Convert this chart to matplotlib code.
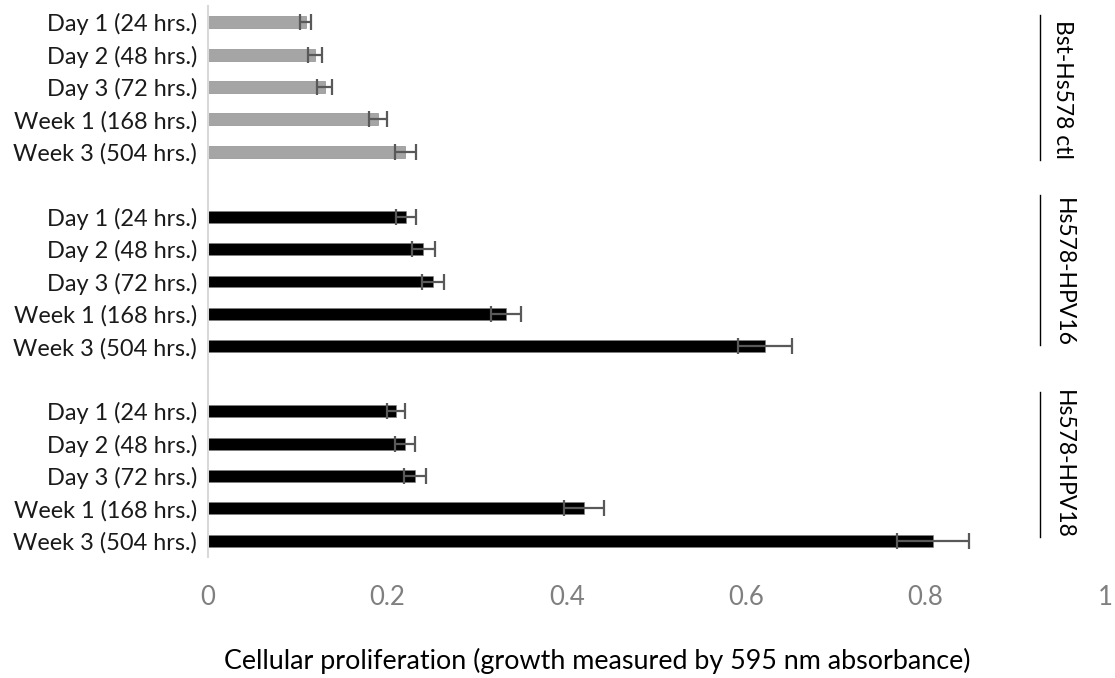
import matplotlib
matplotlib.use("Agg")
import matplotlib.pyplot as plt
from matplotlib.lines import Line2D
import numpy as np

plt.rcParams['font.family'] = ['Lato', 'DejaVu Sans']

categories = ["Day 1 (24 hrs.)", "Day 2 (48 hrs.)", "Day 3 (72 hrs.)",
              "Week 1 (168 hrs.)", "Week 3 (504 hrs.)"]
groups = ["Bst-Hs578 ctl", "Hs578-HPV16", "Hs578-HPV18"]

bst_vals = [0.109, 0.119, 0.130, 0.190, 0.220]
bst_err = [0.006, 0.008, 0.008, 0.010, 0.012]
hpv16_vals = [0.221, 0.240, 0.251, 0.332, 0.621]
hpv16_err = [0.011, 0.013, 0.012, 0.017, 0.030]
hpv18_vals = [0.210, 0.220, 0.231, 0.419, 0.808]
hpv18_err = [0.010, 0.011, 0.012, 0.022, 0.040]

xticks = [0, 0.2, 0.4, 0.6, 0.8, 1]
xticklabels = ["0", "0.2", "0.4", "0.6", "0.8", "1"]
xlabel = "Cellular proliferation (growth measured by 595 nm absorbance)"

W, H = 1115, 678
fig = plt.figure(figsize=(W / 100, H / 100), dpi=100)
ax = fig.add_axes([208 / W, 1 - 557 / H, (1105 - 208) / W, (557 - 6) / H])

series = [(bst_vals, bst_err, '#a5a5a5'),
          (hpv16_vals, hpv16_err, '#000000'),
          (hpv18_vals, hpv18_err, '#000000')]

positions = []
labels = []
for gi, (vals, errs, col) in enumerate(series):
    ys = np.arange(len(categories)) + gi * (len(categories) + 1)
    ax.barh(ys, vals, height=0.37, color=col, edgecolor='#7f7f7f', linewidth=0.4, zorder=2)
    ax.errorbar(vals, ys, xerr=errs, fmt='none', ecolor='#595959', elinewidth=1.6,
                capsize=5.5, capthick=1.6, zorder=3)
    positions.extend(ys)
    labels.extend(categories)

ax.set_yticks(positions)
ax.set_yticklabels(labels, fontsize=16.9, color='#1a1a1a')
ax.set_ylim(16.5, -0.5)
ax.set_xlim(0, 1)
ax.set_xticks(xticks)
ax.set_xticklabels(xticklabels, fontsize=18.5, color='#7f7f7f')
ax.tick_params(axis='both', length=0)
ax.tick_params(axis='x', pad=20)
ax.tick_params(axis='y', pad=8)
for s in ['top', 'right', 'bottom']:
    ax.spines[s].set_visible(False)
ax.spines['left'].set_color('#d9d9d9')
ax.spines['left'].set_linewidth(1.5)
fig.text(597 / W, 1 - 661 / H, xlabel, fontsize=19.4, color='#000000',
         ha='center', va='center')

# group labels on the right
grp_text_y = [89, 272, 464]
grp_line = [(15, 160), (195, 345), (392, 537)]
for name, ty, (y0, y1) in zip(groups, grp_text_y, grp_line):
    fig.text(1063 / W, 1 - ty / H, name, rotation=270, ha='center', va='center',
             fontsize=16.5, color='#000000')
    fig.add_artist(Line2D([1040 / W, 1040 / W], [1 - y0 / H, 1 - y1 / H],
                          transform=fig.transFigure, color='#000000', linewidth=1))

fig.savefig("out.png", dpi=100)
